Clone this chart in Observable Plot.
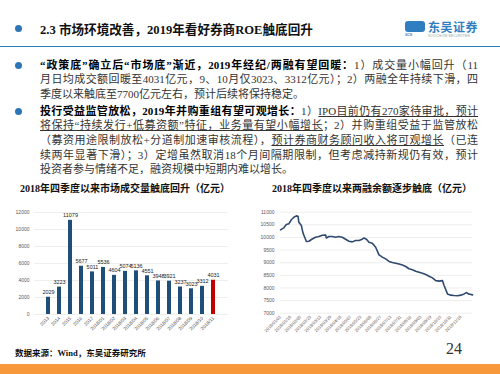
<!DOCTYPE html>
<html><head><meta charset="utf-8">
<script src="https://cdn.jsdelivr.net/npm/d3@7"></script>
<script src="https://cdn.jsdelivr.net/npm/@observablehq/plot@0.6"></script>
<style>
html,body{margin:0;padding:0;background:#fff;}
#page{position:relative;width:500px;height:374px;overflow:hidden;font-family:"Liberation Serif","Noto Sans CJK SC",serif;color:#222;}
.abs{position:absolute;}
.dot{position:absolute;width:7px;height:7px;border-radius:50%;background:#2e75b6;}
.para{position:absolute;left:40px;width:438px;font-size:11px;line-height:14.7px;color:#333;}
.para div{text-align:justify;text-align-last:justify;white-space:nowrap;}
.para div.last{text-align-last:left;}
.para b{color:#000;}
.para u{text-decoration:underline;text-underline-offset:1px;}
.ctitle{position:absolute;top:180px;font-size:10px;font-weight:bold;color:#111;white-space:nowrap;}
</style></head>
<body>
<div id="page">
  <div class="dot" style="left:15px;top:25px;"></div>
  <div class="abs" style="left:40px;top:19px;font-size:12.6px;font-weight:bold;color:#111;white-space:nowrap;">2.3 市场环境改善，2019年看好券商ROE触底回升</div>
  <div class="abs" style="left:405px;top:21px;width:20px;height:11px;border-radius:3px;background:#2f7ec2;"></div>
  <div class="abs" style="left:405px;top:33px;font-size:3.5px;color:#2f7ec2;font-family:'Liberation Sans';font-weight:bold;">SCS</div>
  <div class="abs" style="left:428px;top:18px;font-size:12px;font-weight:bold;color:#2f7ec2;font-family:'Noto Sans CJK SC';letter-spacing:0.5px;white-space:nowrap;">东吴证券</div>
  <div class="abs" style="left:428px;top:34px;font-size:3.6px;color:#8aa;font-family:'Liberation Sans';white-space:nowrap;">SOOCHOW SECURITIES</div>
  <div class="abs" style="left:0;top:45.5px;width:500px;height:1.8px;background:#2e7fb8;"></div>

  <div class="dot" style="left:15px;top:62px;"></div>
  <div class="para" style="top:57.5px;">
    <div><b>“政策底”确立后“市场底”渐近，2019年经纪/两融有望回暖：</b>1）成交量小幅回升（11</div>
    <div>月日均成交额回暖至4031亿元，9、10月仅3023、3312亿元）；2）两融全年持续下滑，四</div>
    <div class="last">季度以来触底至7700亿元左右，预计后续将保持稳定。</div>
  </div>

  <div class="dot" style="left:15px;top:108px;"></div>
  <div class="para" style="top:103.5px;">
    <div><b>投行受益监管放松，2019年并购重组有望可观增长：</b>1）<u>IPO目前仍有270家待审批，预计</u></div>
    <div><u>将保持“持续发行+低募资额”特征，业务量有望小幅增长</u>；2）并购重组受益于监管放松</div>
    <div>（募资用途限制放松+分道制加速审核流程），<u>预计券商财务顾问收入将可观增长</u>（已连</div>
    <div>续两年显著下滑）；3）定增虽然取消18个月间隔期限制，但考虑减持新规仍有效，预计</div>
    <div class="last">投资者参与情绪不足，融资规模中短期内难以增长。</div>
  </div>

  <div class="ctitle" style="left:20px;">2018年四季度以来市场成交量触底回升（亿元）</div>
  <div class="ctitle" style="left:272px;">2018年四季度以来两融余额逐步触底（亿元）</div>

  <div id="c1" class="abs" style="left:0;top:200px;"></div>
  <div id="c2" class="abs" style="left:250px;top:200px;"></div>

  <div class="abs" style="left:15px;top:346px;font-size:8.5px;font-weight:bold;color:#111;white-space:nowrap;">数据来源：Wind，东吴证券研究所</div>
  <div class="abs" style="left:446px;top:340px;font-size:16px;color:#333;">24</div>
  <div class="abs" style="left:0;top:364px;width:500px;height:10px;background:#f7993b;"></div>
</div>
<script>
// ---- left chart data ----
const barCategories = ["2013","2014","2015","2016","2017","2018/01","2018/02","2018/03","2018/04","2018/05","2018/06","2018/07","2018/08","2018/09","2018/10","2018/11"];
const barValues = [2029,3223,11079,5677,5011,5536,4604,5074,5136,4551,3948,3921,3237,3023,3312,4031];
const barYTicks = [0,2000,4000,6000,8000,10000,12000];

// ---- right chart data (trading-day index, balance) ----
const lineDay = [0,4,7,10,13,16,19,21,22,25,27,29,31,34,38,42,46,50,54,55,58,62,66,70,74,78,82,86,90,94,98,100,103,106,110,114,118,122,126,130,134,138,142,146,150,154,158,162,166,170,174,178,182,186,190,194,196,200,204,208,212,216,220,223,225,227,230];
const lineValue = [10300,10380,10510,10540,10700,10800,10855,10840,10600,10470,10170,10010,9840,9850,9940,10010,10035,10090,10100,9980,10035,10035,10010,10035,10010,9930,9850,9825,9880,9880,9930,9980,9930,9810,9770,9610,9310,9220,9150,9050,9010,8980,8950,8910,8850,8760,8720,8660,8620,8580,8530,8465,8400,8290,8270,8290,8095,7765,7715,7700,7690,7715,7765,7820,7765,7750,7725];
const lineTickDay = [0,12,24,36,48,60,72,84,96,108,120,132,144,156,168,180,192,204,216];
const lineTickLabels = ["2018/01/02","2018/01/18","2018/02/05","2018/02/23","2018/03/13","2018/03/29","2018/04/18","2018/05/07","2018/05/23","2018/06/08","2018/06/27","2018/07/13","2018/07/31","2018/08/16","2018/09/03","2018/09/19","2018/10/15","2018/10/31","2018/11/16"];
const lineYTicks = [7000,7500,8000,8500,9000,9500,10000,10500,11000];

const bars = barCategories.map((c,i)=>({cat:c, value:barValues[i], last: i===barCategories.length-1}));
const line = lineDay.map((d,i)=>({day:d, value:lineValue[i]}));
const tickMap = new Map(lineTickDay.map((d,i)=>[d,lineTickLabels[i]]));

const c1 = Plot.plot({
  width:240, height:140,
  marginLeft:34, marginRight:12, marginTop:12, marginBottom:26,
  style:{fontFamily:"Liberation Sans", fontSize:"5px", color:"#595959", background:"transparent"},
  x:{type:"band", domain:barCategories, padding:0.6, label:null},
  y:{domain:[0,12000], label:null},
  marks:[
    Plot.ruleY(barYTicks, {stroke:"#e6e6e6", strokeWidth:0.7}),
    Plot.barY(bars, {x:"cat", y:"value", fill:d=>d.last?"#c00000":"#1f4e79"}),
    Plot.text(bars, {x:"cat", y:"value", text:d=>String(d.value), dy:-5, fontSize:5.5, fill:"#222"}),
    Plot.axisY({ticks:barYTicks, tickSize:0, tickPadding:5, tickFormat:d=>String(d), fontSize:5}),
    Plot.axisX({tickSize:0, tickPadding:3, tickRotate:-45, fontSize:4.8})
  ]
});
document.getElementById("c1").appendChild(c1);

const c2 = Plot.plot({
  width:240, height:140,
  marginLeft:30, marginRight:18, marginTop:11.7, marginBottom:27.3,
  style:{fontFamily:"Liberation Sans", fontSize:"5px", color:"#595959", background:"transparent"},
  x:{domain:[0,230], label:null},
  y:{domain:[7000,11000], label:null},
  marks:[
    Plot.ruleY(lineYTicks, {stroke:"#e6e6e6", strokeWidth:0.7}),
    Plot.line(line, {x:"day", y:"value", stroke:"#2f4a6e", strokeWidth:1.6}),
    Plot.axisY({ticks:lineYTicks, tickSize:0, tickPadding:6, tickFormat:d=>String(d), fontSize:5}),
    Plot.axisX({ticks:lineTickDay, tickFormat:d=>tickMap.get(d), tickSize:0, tickPadding:3, tickRotate:-45, fontSize:4.3})
  ]
});
document.getElementById("c2").appendChild(c2);
</script>
</body></html>
